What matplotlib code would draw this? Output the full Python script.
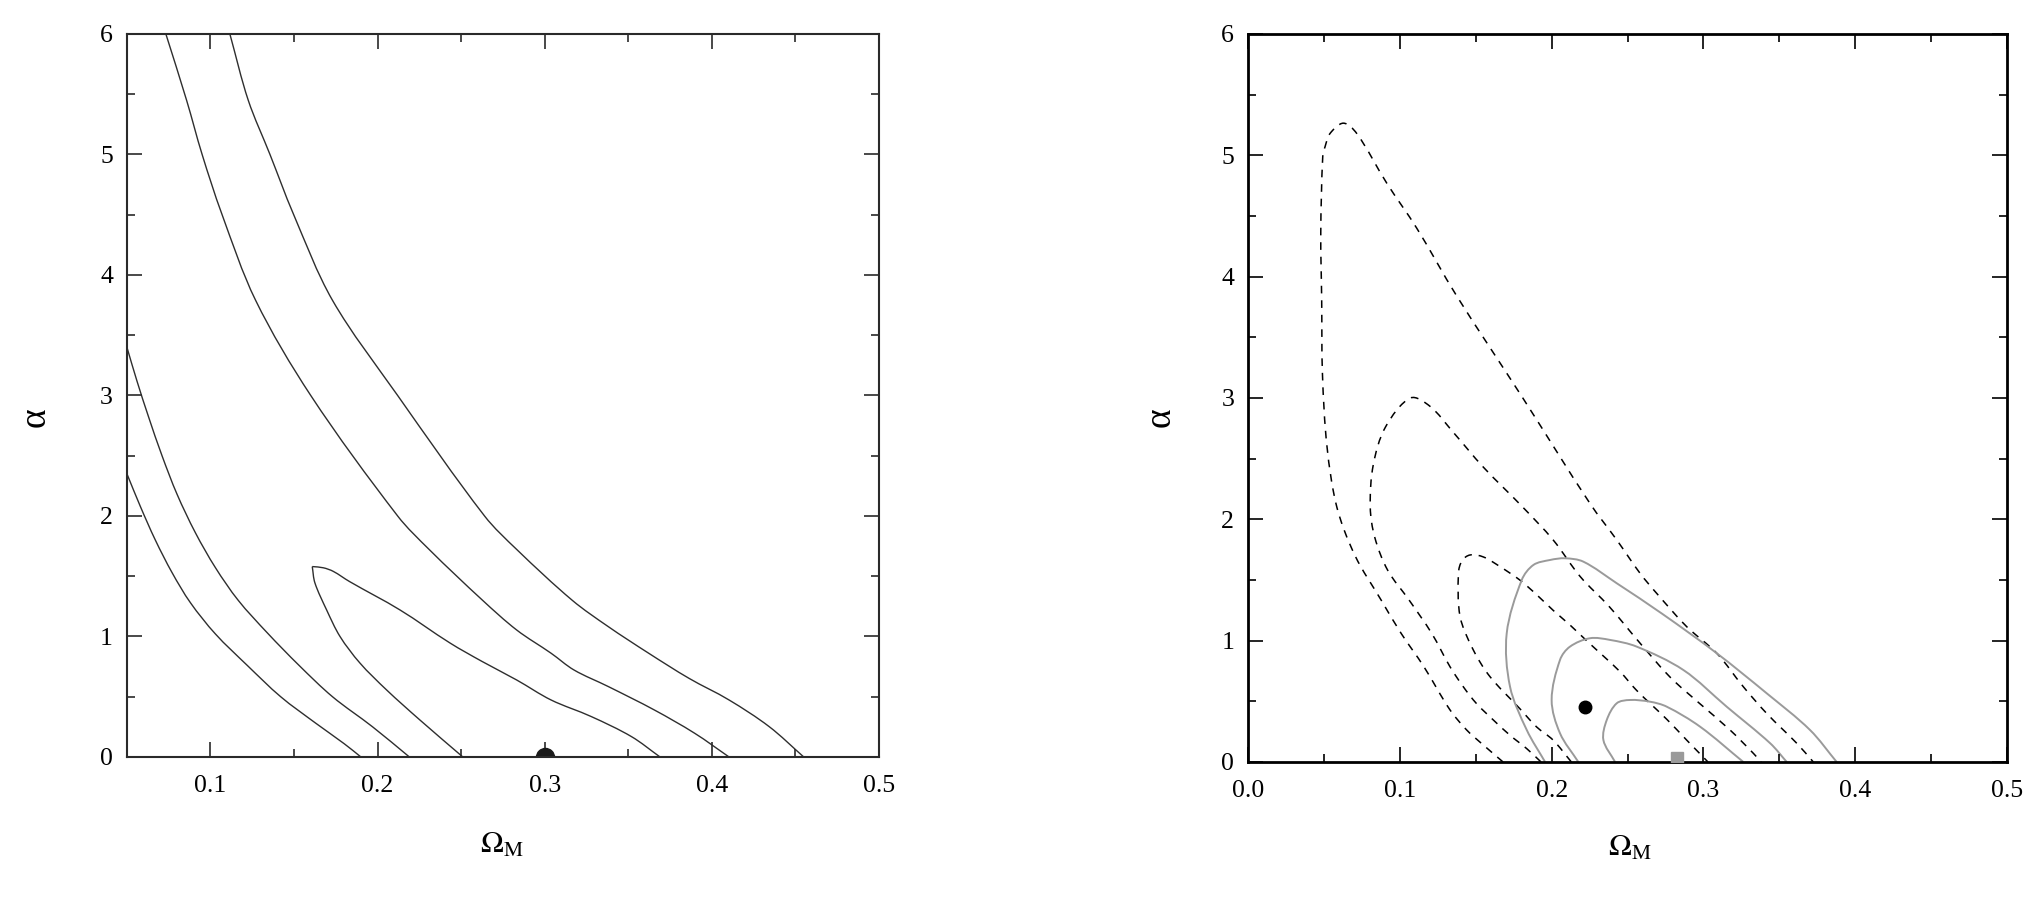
"""
Contornos de confiança no plano (Omega_M, alpha): dois painéis lado a lado.
Salva out.png.
"""

import matplotlib
matplotlib.use("Agg")  # sem display
import matplotlib.pyplot as plt
import numpy as np
from matplotlib.patches import PathPatch
from matplotlib.path import Path
from matplotlib.ticker import FormatStrFormatter, MultipleLocator

plt.rcParams["font.family"] = ["Liberation Serif", "DejaVu Serif"]
plt.rcParams["mathtext.fontset"] = "stix"

# ---- painel esquerdo: contornos (Omega_M, alpha) ----
esq_ext_om = [0.050, 0.058, 0.067, 0.077, 0.088, 0.103, 0.122, 0.142, 0.163, 0.180, 0.190]
esq_ext_al = [2.35, 2.08, 1.80, 1.53, 1.28, 1.02, 0.76, 0.50, 0.28, 0.11, 0.0]

esq_med_om = [0.050, 0.056, 0.063, 0.071, 0.080, 0.091, 0.103, 0.1166, 0.134, 0.153, 0.173, 0.197, 0.219]
esq_med_al = [3.40, 3.12, 2.82, 2.50, 2.18, 1.86, 1.57, 1.30, 1.03, 0.76, 0.50, 0.25, 0.0]

# contorno interno fechado: lado esquerdo (de baixo até a ponta) e lado de cima
interno_esq_om = [0.251, 0.2253, 0.2054, 0.1894, 0.1775, 0.1695, 0.1625, 0.1609]
interno_esq_al = [0.0, 0.307, 0.556, 0.78, 1.0, 1.22, 1.444, 1.58]
interno_sup_om = [0.1609, 0.1675, 0.1735, 0.1833, 0.2134, 0.2433, 0.2626, 0.2832,
                  0.3038, 0.3279, 0.3519, 0.369]
interno_sup_al = [1.58, 1.57, 1.54, 1.455, 1.22, 0.946, 0.792, 0.639,
                  0.473, 0.335, 0.169, 0.0]

dir_b_om = [0.0733, 0.0857, 0.095, 0.1067, 0.127, 0.160, 0.212, 0.231, 0.2626, 0.2832,
            0.3038, 0.3175, 0.3381, 0.3656, 0.3897, 0.4103]
dir_b_al = [6.0, 5.45, 5.0, 4.51, 3.79, 3.0, 2.0, 1.72, 1.303, 1.054,
            0.861, 0.722, 0.584, 0.39, 0.197, 0.0]

dir_a_om = [0.1116, 0.1226, 0.1356, 0.1495, 0.173, 0.212, 0.264, 0.2834, 0.3165, 0.338,
            0.3622, 0.3863, 0.4103, 0.4343, 0.455]
dir_a_al = [6.0, 5.45, 5.0, 4.51, 3.79, 3.0, 2.0, 1.72, 1.30, 1.082,
            0.861, 0.653, 0.473, 0.252, 0.0]

melhor_esq = (0.30, 0.0)

# ---- painel direito: contornos tracejados (pretos) e sólidos (cinza) ----
tr_ext_om = [0.168, 0.155, 0.144, 0.133, 0.1158, 0.1008, 0.0876, 0.0705, 0.0585, 0.052, 0.049,
             0.0485, 0.0479, 0.0492, 0.0507, 0.054, 0.0628, 0.0716, 0.0914, 0.1111, 0.1375,
             0.181, 0.2253, 0.2429, 0.2582, 0.2692, 0.289, 0.3088, 0.3263, 0.3417, 0.3615, 0.3724]
tr_ext_al = [0.0, 0.14, 0.264, 0.43, 0.786, 1.061, 1.336, 1.70, 2.10, 2.60, 3.20,
             3.81, 4.36, 4.99, 5.07, 5.18, 5.265, 5.18, 4.77, 4.40, 3.84,
             3.0, 2.13, 1.83, 1.556, 1.39, 1.115, 0.896, 0.62, 0.40, 0.154, 0.0]

tr_med_om = [0.193, 0.1836, 0.1726, 0.1616, 0.1506, 0.1418, 0.133, 0.121, 0.106, 0.092,
             0.0835, 0.0805, 0.0825, 0.0905, 0.107, 0.120, 0.135, 0.155, 0.181, 0.201,
             0.2187, 0.238, 0.2582, 0.278, 0.2977, 0.3175, 0.333, 0.338]
tr_med_al = [0.0, 0.11, 0.22, 0.346, 0.48, 0.62, 0.786, 1.06, 1.336, 1.58,
             1.85, 2.10, 2.45, 2.76, 3.0, 2.93, 2.72, 2.43, 2.10, 1.83,
             1.53, 1.28, 0.98, 0.70, 0.48, 0.264, 0.07, 0.0]

tr_int_om = [0.213, 0.201, 0.19, 0.179, 0.1594, 0.1484, 0.1397, 0.1386, 0.141, 0.1462,
             0.155, 0.166, 0.179, 0.19, 0.201, 0.212, 0.223, 0.245, 0.256, 0.276, 0.289, 0.303]
tr_int_al = [0.0, 0.18, 0.29, 0.44, 0.703, 0.923, 1.198, 1.556, 1.66, 1.706,
             1.69, 1.61, 1.50, 1.38, 1.25, 1.13, 1.0, 0.745, 0.59, 0.35, 0.18, 0.0]

so_ext_om = [0.1957, 0.1836, 0.1726, 0.1704, 0.1803, 0.188, 0.199, 0.2088, 0.2209, 0.2429,
             0.2730, 0.3088, 0.3417, 0.3702, 0.3878]
so_ext_al = [0.0, 0.264, 0.62, 1.06, 1.50, 1.624, 1.665, 1.679, 1.651, 1.473,
             1.22, 0.896, 0.566, 0.264, 0.0]

so_med_om = [0.2176, 0.2055, 0.200, 0.2055, 0.212, 0.2253, 0.2385, 0.256, 0.2868, 0.3153,
             0.344, 0.3549]
so_med_al = [0.0, 0.237, 0.511, 0.841, 0.95, 1.02, 1.006, 0.951, 0.758, 0.456,
             0.154, 0.0]

so_int_om = [0.2418, 0.2341, 0.2363, 0.2429, 0.2516, 0.2648, 0.2758, 0.2978, 0.3263]
so_int_al = [0.0, 0.181, 0.346, 0.484, 0.511, 0.497, 0.456, 0.291, 0.0]

melhor_dir = (0.222, 0.456)
melhor_cinza = (0.2824, 0.03)

CINZA = "#9a9a9a"


def _curva(ax, om, al, **kw):
    # curva suave (Bezier cúbica) passando pelos pontos lidos;
    # tangentes ponderadas pelo comprimento dos trechos, em escala de tela
    pts = np.column_stack([om, al])
    escala = np.array([1600.0, 120.0])
    n = len(pts)
    comp = lambda a, b: np.hypot(*((b - a) * escala)) + 1e-9
    verts, codes = [pts[0]], [Path.MOVETO]
    for i in range(n - 1):
        p0, p1 = pts[max(i - 1, 0)], pts[i]
        p2, p3 = pts[i + 1], pts[min(i + 2, n - 1)]
        l01, l12, l23 = comp(p0, p1), comp(p1, p2), comp(p2, p3)
        if i == 0:
            l01 = 0.0
        if i + 2 > n - 1:
            l23 = 0.0
        c1 = p1 + (p2 - p0) * l12 / (3 * (l01 + l12))
        c2 = p2 - (p3 - p1) * l12 / (3 * (l12 + l23))
        verts += [c1, c2, p2]
        codes += [Path.CURVE4] * 3
    ax.add_patch(PathPatch(Path(verts, codes), fill=False, **kw))


def _estilo(ax, cor_eixo, lw_eixo):
    ax.xaxis.set_major_locator(MultipleLocator(0.1))
    ax.xaxis.set_minor_locator(MultipleLocator(0.05))
    ax.yaxis.set_major_locator(MultipleLocator(1))
    ax.yaxis.set_minor_locator(MultipleLocator(0.5))
    ax.tick_params(which="both", direction="in", top=True, right=True,
                   width=1.2, color=cor_eixo, labelsize=18.5)
    ax.tick_params(which="major", length=11)
    ax.tick_params(which="minor", length=6)
    ax.tick_params(axis="x", pad=13)
    ax.tick_params(axis="y", pad=10)
    for sp in ax.spines.values():
        sp.set_color(cor_eixo)
        sp.set_linewidth(lw_eixo)


fig = plt.figure(figsize=(20.44, 8.99), dpi=100)

# painel esquerdo
ax1 = fig.add_axes([0.0621, 0.1580, 0.3679, 0.8042])
for om, al in [(esq_ext_om, esq_ext_al), (esq_med_om, esq_med_al),
               (interno_esq_om, interno_esq_al), (interno_sup_om, interno_sup_al),
               (dir_b_om, dir_b_al), (dir_a_om, dir_a_al)]:
    _curva(ax1, om, al, edgecolor="#2e2e2e", lw=1.0, joinstyle="round")
ax1.plot(*melhor_esq, "o", ms=13, color="#1a1a1a", zorder=2)
ax1.set_xlim(0.05, 0.5)
ax1.set_ylim(0, 6)
_estilo(ax1, "#2a2a2a", 1.5)

# painel direito
ax2 = fig.add_axes([0.6106, 0.1524, 0.3713, 0.8098])
for om, al in [(tr_ext_om, tr_ext_al), (tr_med_om, tr_med_al), (tr_int_om, tr_int_al)]:
    _curva(ax2, om, al, edgecolor="black", lw=1.1, linestyle=(0, (5, 4.5)))
for om, al in [(so_ext_om, so_ext_al), (so_med_om, so_med_al), (so_int_om, so_int_al)]:
    _curva(ax2, om, al, edgecolor=CINZA, lw=1.4, joinstyle="round")
ax2.plot(*melhor_dir, "o", ms=9, color="black", zorder=3)
ax2.plot(*melhor_cinza, "s", ms=9, color=CINZA, zorder=3)
ax2.set_xlim(0.0, 0.5)
ax2.set_ylim(0, 6)
ax2.xaxis.set_major_formatter(FormatStrFormatter("%.1f"))
_estilo(ax2, "black", 2.0)

# rótulos dos eixos
for x in (35, 1160):
    fig.text(x / 2044, 1 - 417 / 899, "α", rotation=90, fontsize=27,
             ha="center", va="center")
fig.text(502 / 2044, 1 - 845 / 899, r"$\Omega_\mathrm{M}$", fontsize=22,
         ha="center", va="center")
fig.text(1630 / 2044, 1 - 848 / 899, r"$\Omega_\mathrm{M}$", fontsize=22,
         ha="center", va="center")

fig.savefig("out.png", dpi=100)
plt.close(fig)
